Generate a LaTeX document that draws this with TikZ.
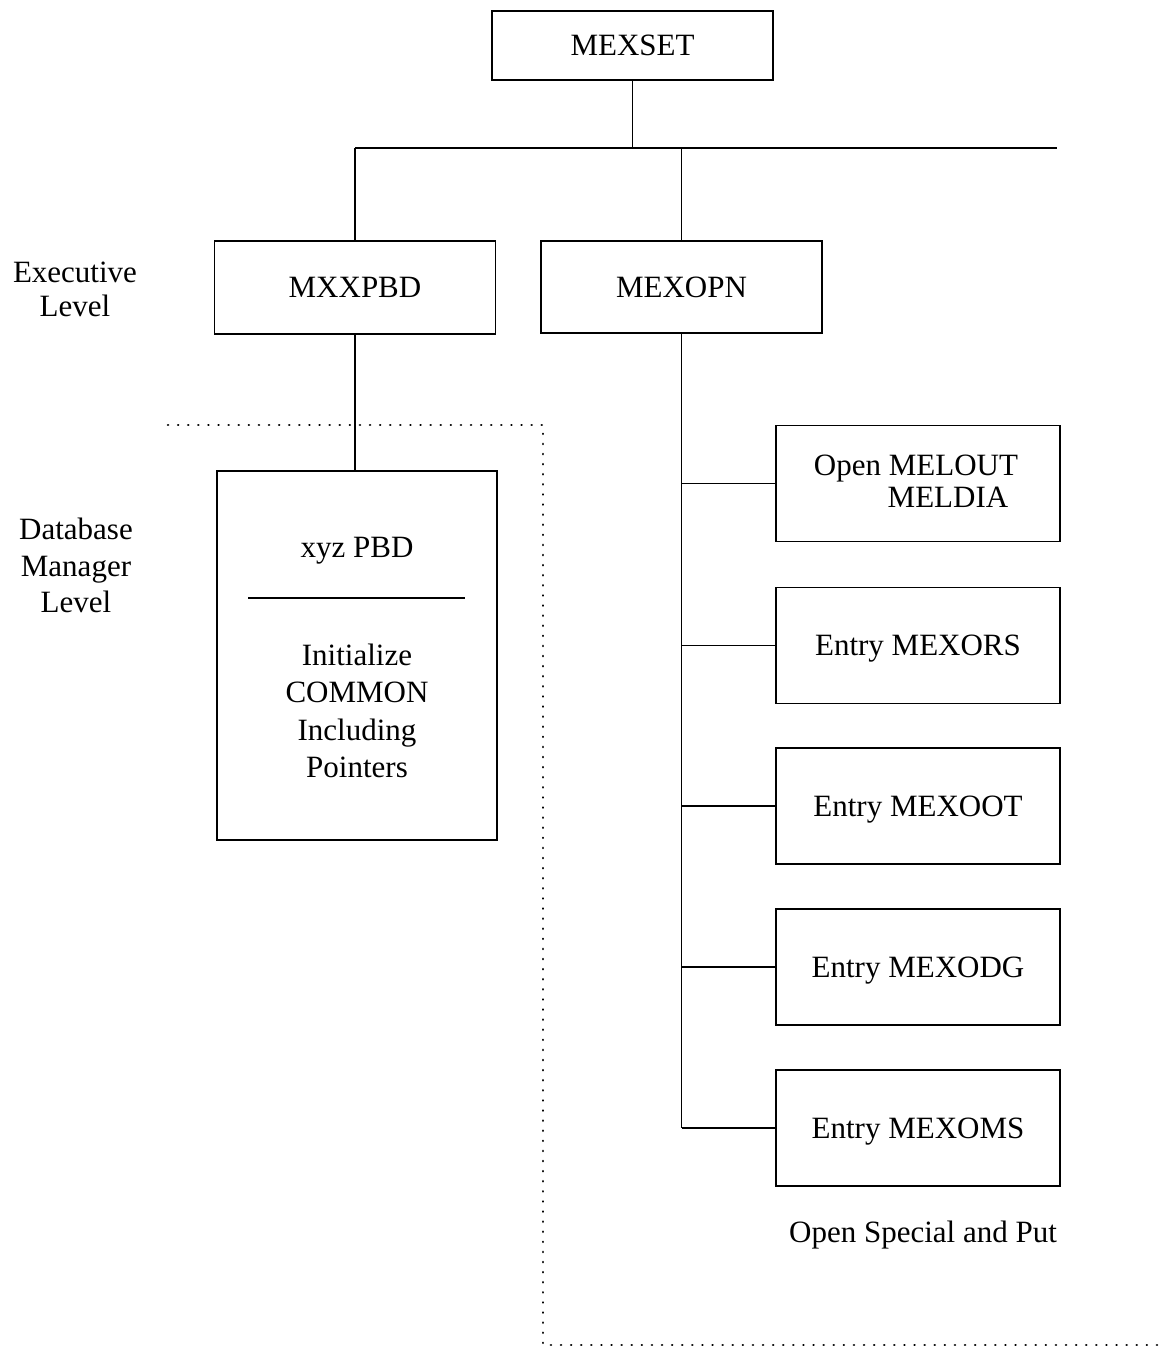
\documentclass[tikz,border=0pt]{standalone}
\usepackage{fontspec}
\setmainfont{Liberation Serif}
\begin{document}
\begin{tikzpicture}[x=1pt,y=-1pt,
  txt/.style={inner sep=0pt, font=\fontsize{31}{37}\selectfont, text height=20.5pt, text depth=0pt},
  box/.style={txt, draw, line width=1.8pt, rectangle},
  wide/.style={minimum width=281pt, minimum height=#1},
  entry/.style={box, minimum width=284pt, minimum height=116pt},
  wire/.style={line width=1.5pt},
  bound/.style={line width=2.6pt, line cap=round, dash pattern=on 0.1pt off 10pt}]
\useasboundingbox (0,0) rectangle (1160,1350);

% level captions
\node[txt] (exec1) at (75,272) {Executive};
\node[txt] (exec2) at (75,306) {Level};
\node[txt] (db1) at (76,529) {Database};
\node[txt] (db2) at (76,566) {Manager};
\node[txt] (db3) at (76,602) {Level};

% top of the hierarchy
\node[box, wide=69pt] (top) at (632.5,45.5) {MEXSET};
\node[box, wide=93pt] (mxx) at (355,287.5) {MXXPBD};
\node[box, wide=92pt] (opn) at (681.5,287) {MEXOPN};

% bus under MEXSET
\coordinate (busL) at (355,148);
\coordinate (busR) at (1057,148);
\draw[wire] (top.south) -- (top.south |- busL);
\draw[wire] (busL) -- (busR);
\draw[wire] (mxx.north) -- (mxx.north |- busL);
\draw[wire] (opn.north) -- (opn.north |- busL);

% database manager box
\node[box, minimum width=280pt, minimum height=369pt] (xyz) at (357,655.5) {};
\draw[wire] (mxx.south) -- (mxx.south |- xyz.north);
\node[txt] (xyzt) at (357,547) {xyz PBD};
\coordinate (sepL) at (248,598);
\coordinate (sepR) at (465,598);
\draw[wire] (sepL) -- (sepR);
\node[txt] (in1) at (357,655) {Initialize};
\node[txt] (in2) at (357,692) {COMMON};
\node[txt] (in3) at (357,730) {Including};
\node[txt] (in4) at (357,767) {Pointers};

% entries under MEXOPN
\node[entry] (melout) at (918,483.5) {};
\node[txt] (melout1) at (916,465) {Open MELOUT};
\node[txt] (melout2) at (948,497) {MELDIA};
\node[entry] (ors) at (918,645.5) {Entry MEXORS};
\node[entry] (oot) at (918,806) {Entry MEXOOT};
\node[entry] (odg) at (918,967) {Entry MEXODG};
\node[entry] (oms) at (918,1128) {Entry MEXOMS};

\draw[wire] (opn.south) -- (opn.south |- oms.west);
\foreach \b in {melout,ors,oot,odg,oms}
  \draw[wire] (opn.south |- \b.west) -- (\b.west);

\node[txt] (osp) at (923,1232) {Open Special and Put};

% dotted boundary of the database manager level
\coordinate (d1) at (168,425);
\coordinate (d2) at (543,425);
\coordinate (d3) at (543,1345);
\coordinate (d4) at (1160,1345);
\draw[bound] (d1) -- (d2) -- (d3) -- (d4);
\end{tikzpicture}
\end{document}
